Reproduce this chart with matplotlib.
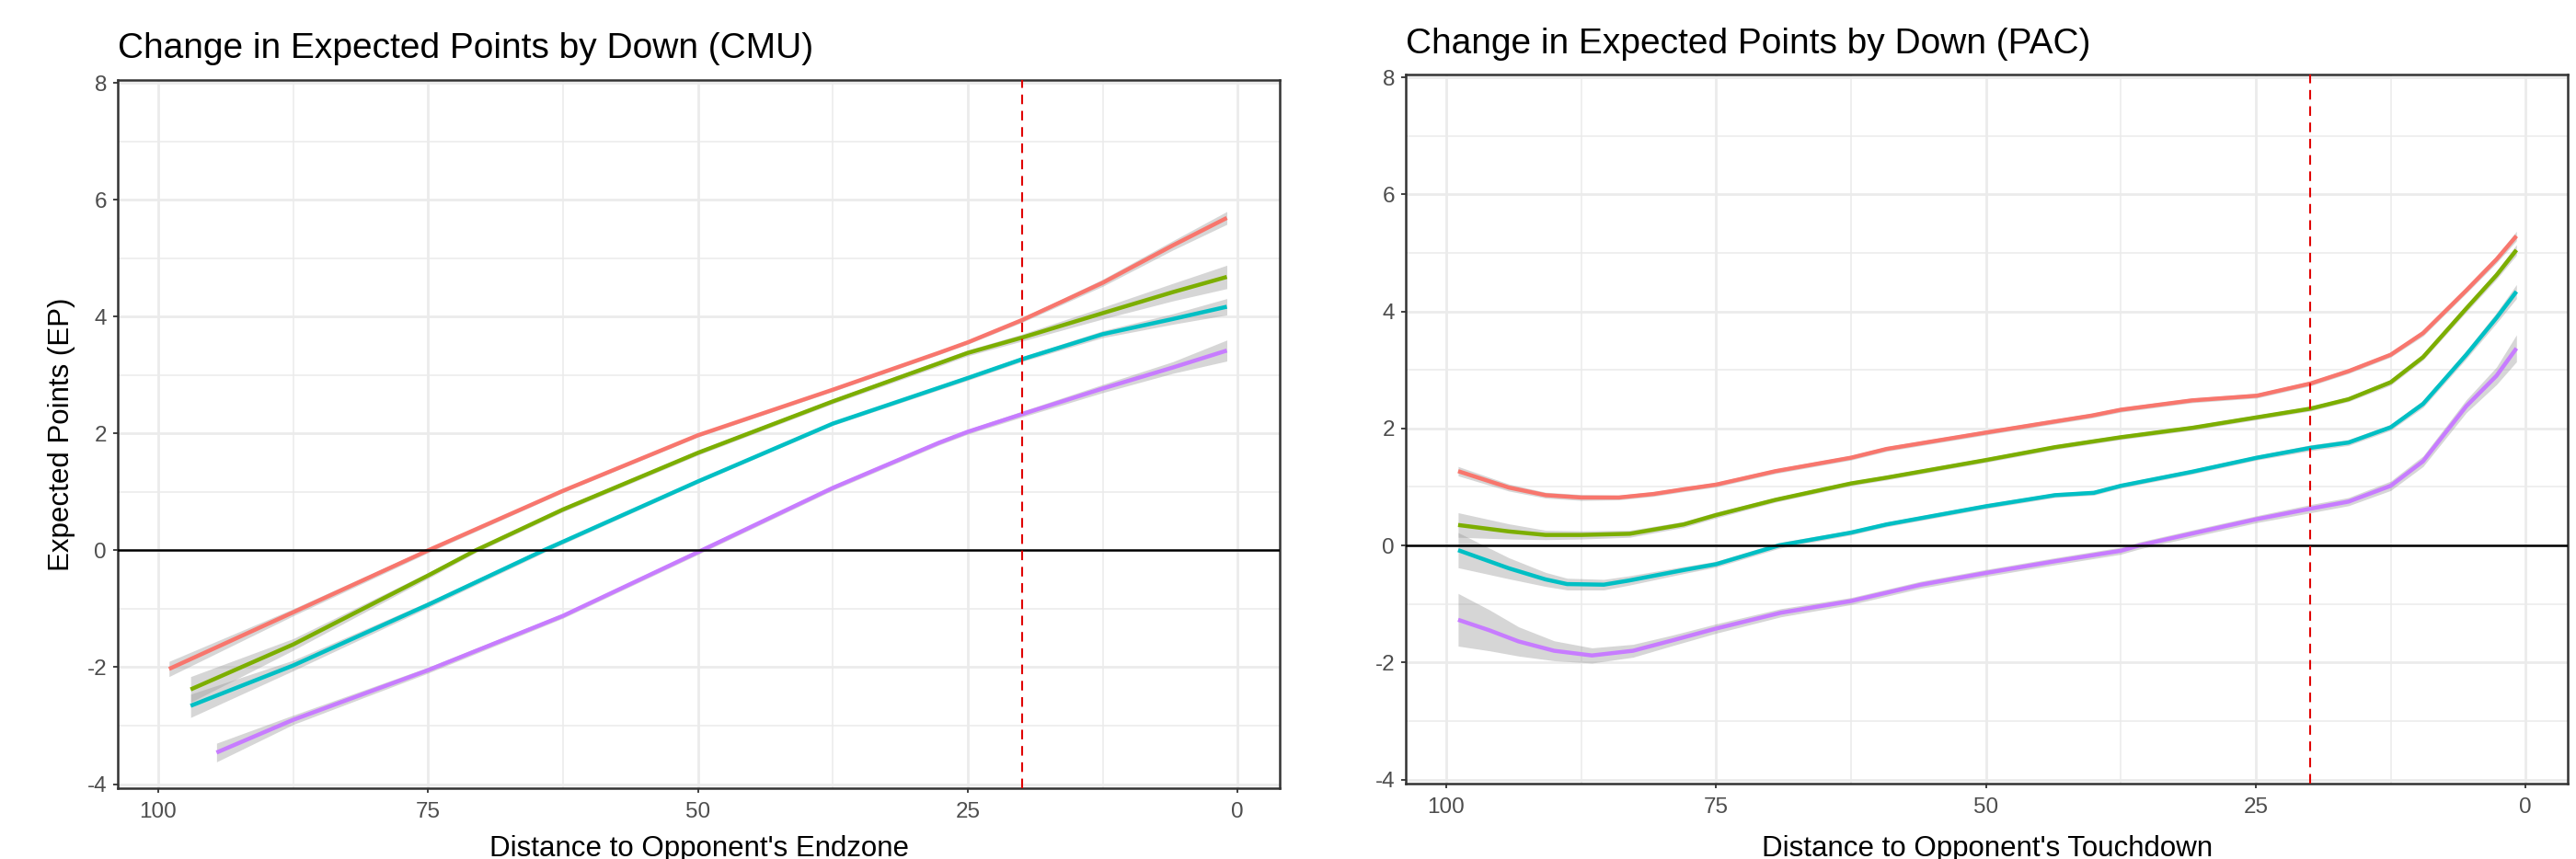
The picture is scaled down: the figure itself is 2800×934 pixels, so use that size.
import matplotlib.pyplot as plt

# colours for downs 1-4 (ggplot default hues)
colors = ["#F8766D", "#7CAE00", "#00BFC4", "#C77CFF"]

# ---- CMU panel: yards to endzone, expected points, band half-width ----
cmu_x1 = [99, 87.5, 75, 62.5, 50, 37.5, 27.7, 25, 20, 16, 12.5, 6, 1]
cmu_y1 = [-2.03, -1.06, 0.0, 1.02, 1.97, 2.75, 3.38, 3.56, 3.94, 4.28, 4.58, 5.22, 5.69]
cmu_s1 = [0.13, 0.06, 0.04, 0.03, 0.03, 0.03, 0.03, 0.03, 0.04, 0.05, 0.06, 0.08, 0.11]

cmu_x2 = [97, 87.5, 75, 70.6, 62.5, 50, 37.5, 27.7, 25, 20, 12.5, 6, 1]
cmu_y2 = [-2.38, -1.61, -0.43, 0.0, 0.70, 1.67, 2.55, 3.2, 3.38, 3.64, 4.06, 4.42, 4.68]
cmu_s2 = [0.22, 0.1, 0.05, 0.04, 0.04, 0.04, 0.04, 0.05, 0.05, 0.06, 0.1, 0.15, 0.2]

cmu_x3 = [97, 87.5, 75, 64.3, 50, 37.5, 25, 20, 12.5, 6, 1]
cmu_y3 = [-2.66, -1.97, -0.93, 0.0, 1.18, 2.17, 2.95, 3.27, 3.70, 3.96, 4.17]
cmu_s3 = [0.2, 0.09, 0.05, 0.04, 0.03, 0.03, 0.04, 0.04, 0.06, 0.09, 0.14]

cmu_x4 = [94.6, 87.5, 75, 62.5, 50, 37.5, 27.7, 25, 20, 12.5, 6, 1]
cmu_y4 = [-3.46, -2.90, -2.05, -1.12, -0.03, 1.07, 1.84, 2.03, 2.33, 2.77, 3.13, 3.42]
cmu_s4 = [0.16, 0.08, 0.05, 0.04, 0.04, 0.04, 0.04, 0.04, 0.05, 0.07, 0.1, 0.18]

# ---- PAC panel ----
pac_x1 = [98.9, 94.2, 90.8, 87.5, 84, 80.8, 78, 75, 69.5, 62.5, 59.2, 50, 43.6, 40.2,
          37.5, 30.9, 24.9, 19.9, 16.4, 12.5, 9.5, 5.5, 2.7, 0.85]
pac_y1 = [1.27, 0.99, 0.86, 0.82, 0.82, 0.88, 0.96, 1.04, 1.27, 1.50, 1.65, 1.93, 2.12, 2.22,
          2.32, 2.48, 2.56, 2.77, 2.98, 3.26, 3.63, 4.36, 4.89, 5.29]
pac_s1 = [0.08, 0.06, 0.05, 0.05, 0.04, 0.04, 0.04, 0.04, 0.04, 0.04, 0.04, 0.04, 0.04, 0.04,
          0.04, 0.04, 0.04, 0.04, 0.04, 0.04, 0.05, 0.05, 0.06, 0.08]

pac_x2 = [98.9, 94.2, 90.8, 87.5, 83, 78, 75, 69.5, 62.5, 59.2, 50, 43.6, 37.5, 30.9,
          24.9, 19.9, 16.4, 12.5, 9.5, 5.5, 2.7, 0.85]
pac_y2 = [0.35, 0.24, 0.18, 0.18, 0.20, 0.36, 0.52, 0.78, 1.06, 1.16, 1.46, 1.68, 1.85, 2.01,
          2.19, 2.34, 2.5, 2.79, 3.22, 4.05, 4.62, 5.05]
pac_s2 = [0.21, 0.13, 0.08, 0.07, 0.06, 0.05, 0.05, 0.04, 0.04, 0.04, 0.04, 0.04, 0.04, 0.04,
          0.04, 0.04, 0.04, 0.05, 0.05, 0.06, 0.07, 0.09]

pac_x3 = [98.9, 94.2, 90.8, 88.8, 85.4, 83.1, 78, 75, 69.2, 62.5, 59.2, 50, 43.6, 40,
          37.5, 30.9, 24.9, 19.9, 16.4, 12.5, 9.5, 5.5, 2.7, 0.85]
pac_y3 = [-0.08, -0.39, -0.58, -0.66, -0.67, -0.60, -0.42, -0.32, 0.0, 0.22, 0.36, 0.67, 0.86, 0.90,
          1.02, 1.26, 1.50, 1.67, 1.76, 2.02, 2.42, 3.26, 3.89, 4.34]
pac_s3 = [0.3, 0.18, 0.12, 0.1, 0.09, 0.08, 0.06, 0.05, 0.05, 0.04, 0.04, 0.04, 0.04, 0.04,
          0.04, 0.04, 0.04, 0.05, 0.05, 0.05, 0.06, 0.07, 0.09, 0.12]

pac_x4 = [98.9, 96, 93.3, 90, 86.5, 82.7, 79, 75, 69, 62.5, 56, 50, 43.6, 37.5,
          35.8, 31, 24.9, 19.9, 16.4, 12.5, 9.5, 5.5, 2.7, 0.85]
pac_y4 = [-1.27, -1.45, -1.64, -1.80, -1.88, -1.80, -1.62, -1.42, -1.15, -0.95, -0.67, -0.47, -0.27, -0.09,
          0.0, 0.2, 0.45, 0.63, 0.75, 1.02, 1.44, 2.38, 2.9, 3.37]
pac_s4 = [0.45, 0.35, 0.25, 0.17, 0.13, 0.11, 0.09, 0.08, 0.07, 0.06, 0.06, 0.06, 0.06, 0.06,
          0.06, 0.06, 0.06, 0.07, 0.07, 0.08, 0.09, 0.11, 0.15, 0.23]

x_ticks = [100, 75, 50, 25, 0]
y_ticks = [-4, -2, 0, 2, 4, 6, 8]
red_zone = 20

cmu = [(cmu_x1, cmu_y1, cmu_s1), (cmu_x2, cmu_y2, cmu_s2),
       (cmu_x3, cmu_y3, cmu_s3), (cmu_x4, cmu_y4, cmu_s4)]
pac = [(pac_x1, pac_y1, pac_s1), (pac_x2, pac_y2, pac_s2),
       (pac_x3, pac_y3, pac_s3), (pac_x4, pac_y4, pac_s4)]

plt.rcParams['font.family'] = ['Liberation Sans', 'DejaVu Sans']
plt.rcParams['axes.unicode_minus'] = False

W, H = 2800, 934
fig = plt.figure(figsize=(W / 100, H / 100), dpi=100)


def draw_panel(rect, series):
    ax = fig.add_axes(rect)
    for (x, y, s), c in zip(series, colors):
        lo = [a - b for a, b in zip(y, s)]
        hi = [a + b for a, b in zip(y, s)]
        ax.fill_between(x, lo, hi, color="#999999", alpha=0.4, lw=0, zorder=2)
        ax.plot(x, y, color=c, lw=3.2, zorder=3, solid_capstyle='butt')
    ax.axhline(0, color="black", lw=1.8, zorder=4)
    ax.axvline(red_zone, color="#e00000", lw=1.5, ls=(0, (5, 3.5)), zorder=4)
    ax.set_xlim(103.75, -3.9)
    ax.set_ylim(-4.07, 8.05)
    ax.set_xticks(x_ticks)
    ax.set_yticks(y_ticks)
    ax.set_xticks([87.5, 62.5, 37.5, 12.5], minor=True)
    ax.set_yticks([-3, -1, 1, 3, 5, 7], minor=True)
    ax.grid(which='major', color="#EBEBEB", lw=2.0, zorder=0)
    ax.grid(which='minor', color="#EBEBEB", lw=1.1, zorder=0)
    ax.set_axisbelow(True)
    ax.tick_params(which='major', direction='out', length=3.6, width=1.3,
                   color="#333333", labelcolor="#4D4D4D", labelsize=17.5)
    ax.tick_params(axis='x', pad=7)
    ax.tick_params(axis='y', pad=5)
    ax.tick_params(which='minor', length=0)
    for sp in ax.spines.values():
        sp.set_color("#333333")
        sp.set_linewidth(1.8)
    return ax


ax1 = draw_panel([128 / W, 1 - 857 / H, 1263 / W, 770 / H], cmu)
ax2 = draw_panel([1528 / W, 1 - 852 / H, 1263 / W, 771 / H], pac)

fig.text(128 / W, 1 - 63 / H, "Change in Expected Points by Down (CMU)",
         fontsize=28, ha='left', va='baseline')
fig.text(1528 / W, 1 - 58 / H, "Change in Expected Points by Down (PAC)",
         fontsize=28, ha='left', va='baseline')
fig.text(760 / W, 1 - 931 / H, "Distance to Opponent's Endzone",
         fontsize=22.5, ha='center', va='baseline')
fig.text(2160 / W, 1 - 931 / H, "Distance to Opponent's Touchdown",
         fontsize=22.5, ha='center', va='baseline')
fig.text(67 / W, 1 - 472 / H, "Expected Points (EP)", fontsize=22.5,
         rotation=90, ha='center', va='center')

fig.savefig("out.png", dpi=100, facecolor="white")
